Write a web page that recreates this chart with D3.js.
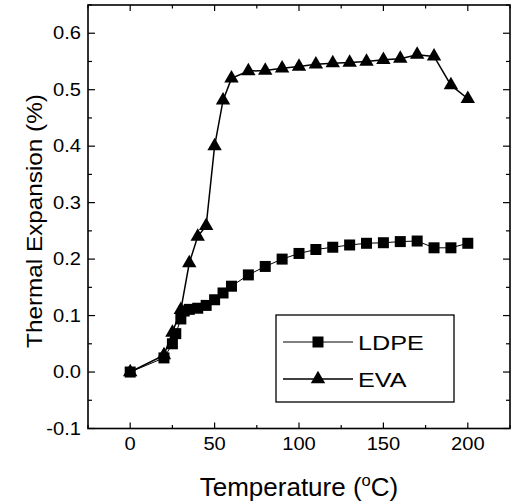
<!DOCTYPE html>
<html>
<head>
<meta charset="utf-8">
<script src="https://cdn.jsdelivr.net/npm/d3@7"></script>
<style>
  body { margin: 0; background: #fff; }
  svg text { font-family: "Liberation Sans", Arial, sans-serif; fill: #000; }
</style>
</head>
<body>
<div id="chart"></div>
<script>
// temperatures (°C) and thermal expansion (%)
const ldpeT = [0, 20, 25, 27, 30, 32, 35, 40, 45, 50, 55, 60, 70, 80, 90, 100, 110, 120, 130, 140, 150, 160, 170, 180, 190, 200];
const ldpeV = [0, 0.025, 0.05, 0.068, 0.094, 0.108, 0.111, 0.113, 0.118, 0.128, 0.140, 0.152, 0.172, 0.187, 0.200, 0.210, 0.217, 0.221, 0.225, 0.228, 0.229, 0.231, 0.232, 0.220, 0.220, 0.228];
const evaT = [0, 20, 25, 30, 35, 40, 45, 50, 55, 60, 70, 80, 90, 100, 110, 120, 130, 140, 150, 160, 170, 180, 190, 200];
const evaV = [0, 0.03, 0.07, 0.11, 0.193, 0.24, 0.259, 0.40, 0.481, 0.52, 0.533, 0.534, 0.538, 0.541, 0.545, 0.547, 0.548, 0.550, 0.553, 0.555, 0.562, 0.559, 0.508, 0.484];
const xTicks = [0, 50, 100, 150, 200];
const yTicks = [-0.1, 0, 0.1, 0.2, 0.3, 0.4, 0.5, 0.6];
const seriesNames = ['LDPE', 'EVA'];

const width = 514, height = 504;
const svg = d3.select('#chart').append('svg').attr('width', width).attr('height', height);

const x = d3.scaleLinear().domain([-25, 225]).range([88, 510]);
const y = d3.scaleLinear().domain([-0.1, 0.65]).range([428.5, 5]);

const x0 = x.range()[0], x1 = x.range()[1];
const y0 = y.range()[0], y1 = y.range()[1];

// the scan is a bit wider than tall, so text is stretched sideways
const wideText = (g, px, py, sx, size, anchor, str) =>
  g.append('text').attr('transform', `translate(${px},${py}) scale(${sx},1)`)
    .attr('text-anchor', anchor).attr('font-size', size).text(str);

// ticks (inward on all four sides)
const xMinor = d3.range(-25, 226, 25).filter(d => xTicks.indexOf(d) < 0);
const yMinor = d3.range(-0.05, 0.66, 0.1);
const tg = svg.append('g').attr('stroke', '#000').attr('stroke-width', 1.2);
xTicks.forEach(d => {
  tg.append('line').attr('x1', x(d)).attr('x2', x(d)).attr('y1', y0).attr('y2', y0 - 6);
  tg.append('line').attr('x1', x(d)).attr('x2', x(d)).attr('y1', y1).attr('y2', y1 + 6);
});
xMinor.forEach(d => {
  tg.append('line').attr('x1', x(d)).attr('x2', x(d)).attr('y1', y0).attr('y2', y0 - 3.5);
  tg.append('line').attr('x1', x(d)).attr('x2', x(d)).attr('y1', y1).attr('y2', y1 + 3.5);
});
yTicks.forEach(d => {
  tg.append('line').attr('x1', x0).attr('x2', x0 + 7).attr('y1', y(d)).attr('y2', y(d));
  tg.append('line').attr('x1', x1).attr('x2', x1 - 7).attr('y1', y(d)).attr('y2', y(d));
});
yMinor.forEach(d => {
  tg.append('line').attr('x1', x0).attr('x2', x0 + 4).attr('y1', y(d)).attr('y2', y(d));
  tg.append('line').attr('x1', x1).attr('x2', x1 - 4).attr('y1', y(d)).attr('y2', y(d));
});

svg.append('rect').attr('x', x0).attr('y', y1).attr('width', x1 - x0).attr('height', y0 - y1)
  .attr('fill', 'none').attr('stroke', '#000').attr('stroke-width', 1.6);

// tick labels (plain hyphen for the minus sign, as in the figure)
const fmt = d => d3.format('.1f')(d).replace('\u2212', '-');
const xl = svg.append('g');
xTicks.forEach(d => wideText(xl, x(d), 450, 1.15, 17.5, 'middle', d));
const yl = svg.append('g');
yTicks.forEach(d => wideText(yl, 81, y(d) + 6, 1.15, 17.5, 'end', fmt(d)));

// axis titles
const xt = svg.append('text').attr('transform', 'translate(299,496) scale(1.04,1)')
  .attr('text-anchor', 'middle').attr('font-size', 25);
xt.append('tspan').text('Temperature (');
xt.append('tspan').attr('font-size', 16).attr('dy', -10).text('o');
xt.append('tspan').attr('dy', 10).text('C)');
svg.append('text').attr('transform', 'translate(42,221) rotate(-90) scale(1.08,1)').attr('text-anchor', 'middle')
  .attr('font-size', 22.5).text('Thermal Expansion (%)');

// series
const line = d3.line().x(d => x(d[0])).y(d => y(d[1]));
const ldpe = ldpeT.map((t, i) => [t, ldpeV[i]]);
const eva = evaT.map((t, i) => [t, evaV[i]]);
const tri = d3.symbol().type(d3.symbolTriangle).size(90);
const sq = 11;

svg.append('path').datum(eva).attr('d', line).attr('fill', 'none').attr('stroke', '#000').attr('stroke-width', 1.5);
svg.append('path').datum(ldpe).attr('d', line).attr('fill', 'none').attr('stroke', '#000').attr('stroke-width', 1);

svg.append('g').selectAll('path').data(eva).join('path')
  .attr('d', tri).attr('transform', d => `translate(${x(d[0])},${y(d[1])})`).attr('fill', '#000');
svg.append('g').selectAll('rect').data(ldpe).join('rect')
  .attr('x', d => x(d[0]) - sq / 2).attr('y', d => y(d[1]) - sq / 2)
  .attr('width', sq).attr('height', sq).attr('fill', '#000');

// legend
const lg = svg.append('g');
lg.append('rect').attr('x', 276).attr('y', 315).attr('width', 178).attr('height', 87)
  .attr('fill', '#fff').attr('stroke', '#000').attr('stroke-width', 1.3);
const rows = [342, 379];
seriesNames.forEach((name, i) => {
  const cy = rows[i];
  lg.append('line').attr('x1', 283).attr('x2', 353).attr('y1', cy).attr('y2', cy)
    .attr('stroke', '#000').attr('stroke-width', i === 0 ? 1 : 1.5);
  if (i === 0) {
    lg.append('rect').attr('x', 318 - sq / 2).attr('y', cy - sq / 2).attr('width', sq).attr('height', sq).attr('fill', '#000');
  } else {
    lg.append('path').attr('d', tri).attr('transform', `translate(318,${cy})`).attr('fill', '#000');
  }
  wideText(lg, 358, cy + 8, 1.2, 21, 'start', name);
});
</script>
</body>
</html>
